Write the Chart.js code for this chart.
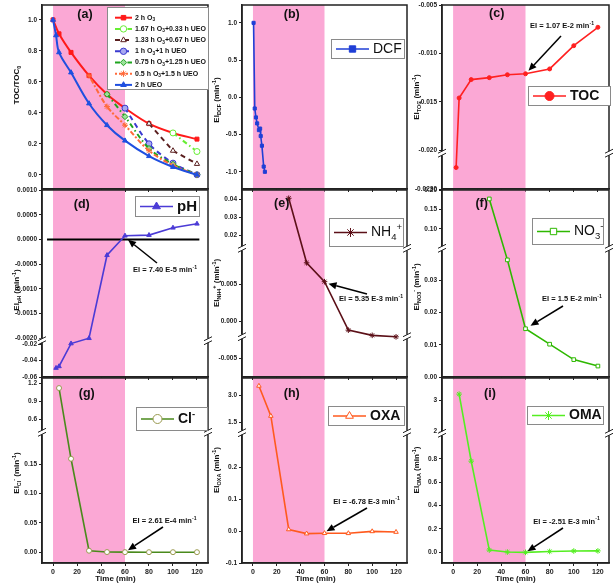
<!DOCTYPE html>
<html>
<head>
<meta charset="utf-8">
<title>EI panels</title>
<script src="https://cdn.jsdelivr.net/npm/chart.js@4.4.1/dist/chart.umd.min.js"></script>
<style>
  html, body { margin: 0; padding: 0; background: #fff; }
  #wrap { position: relative; width: 614px; height: 584px; overflow: hidden; background: #fff; }
  #wrap canvas { position: absolute; left: 0; top: 0; }
</style>
</head>
<body>
<div id="wrap">
  <canvas id="pa" width="614" height="584"></canvas>
  <canvas id="pb" width="614" height="584"></canvas>
  <canvas id="pc" width="614" height="584"></canvas>
  <canvas id="pd" width="614" height="584"></canvas>
  <canvas id="pe" width="614" height="584"></canvas>
  <canvas id="pf" width="614" height="584"></canvas>
  <canvas id="pg" width="614" height="584"></canvas>
  <canvas id="ph" width="614" height="584"></canvas>
  <canvas id="pi" width="614" height="584"></canvas>
</div>
<script>
// ---------- data ----------
const xTicks = [0, 20, 40, 60, 80, 100, 120];
const ueoStage = [0, 60];   // pink band (min)

// (a) TOC/TOC0
const timeO3 = [0, 5, 15, 30, 45, 60, 80, 100, 120];
const tocO3 = [1.00, 0.91, 0.79, 0.64, 0.52, 0.43, 0.33, 0.27, 0.23];
const time167 = [100, 120];
const toc167 = [0.27, 0.15];
const time133 = [80, 100, 120];
const toc133 = [0.33, 0.155, 0.07];
const time100 = [60, 80, 100, 120];
const toc100 = [0.43, 0.20, 0.075, 0.0];
const time075 = [45, 60, 80, 100, 120];
const toc075 = [0.52, 0.375, 0.17, 0.068, 0.0];
const time050 = [30, 45, 60, 80, 100, 120];
const toc050 = [0.64, 0.44, 0.32, 0.155, 0.06, 0.0];
const timeUEO = [0, 2.5, 5, 15, 30, 45, 60, 80, 100, 120];
const tocUEO = [1.00, 0.90, 0.79, 0.66, 0.46, 0.32, 0.22, 0.12, 0.05, 0.0];
const ticksA = [0, 0.2, 0.4, 0.6, 0.8, 1.0];
const labelsA = ['0.0', '0.2', '0.4', '0.6', '0.8', '1.0'];

// (b) DCF
const timeDCF = [0.5, 1.5, 2.5, 3.5, 5, 6, 6.5, 7.5, 9, 10];
const eiDCF = [1.0, -0.15, -0.27, -0.35, -0.44, -0.42, -0.52, -0.65, -0.93, -1.0];
const ticksB = [-1.0, -0.5, 0, 0.5, 1.0];
const labelsB = ['-1.0', '-0.5', '0.0', '0.5', '1.0'];

// (c) TOC
const timeTOC = [2.5, 5, 15, 30, 45, 60, 80, 100, 120];
const eiTOC = [-0.0218, -0.0146, -0.0127, -0.0125, -0.0122, -0.0121, -0.0116, -0.0092, -0.0073];
const ticksC = [-0.023, -0.020, -0.015, -0.010, -0.005];
const labelsC = ['-0.0230', '-0.020', '-0.015', '-0.010', '-0.005'];

// (d) pH
const timePH = [2.5, 5, 15, 30, 45, 60, 80, 100, 120];
const eiPH = [-0.049, -0.047, -0.019, -0.0020, -0.00032, 0.000074, 0.000087, 0.000235, 0.000316];
const zeroLineX = [-5, 122];
const zeroLineY = [0, 0];
const ticksD = [-0.06, -0.04, -0.02, -0.0020, -0.0015, -0.0010, -0.0005, 0, 0.0005, 0.0010];
const labelsD = ['-0.06', '-0.04', '-0.02', '-0.0020', '-0.0015', '-0.0010', '-0.0005', '0.0000', '0.0005', '0.0010'];

// (e) NH4+, (f) NO3-
const timeN = [30, 45, 60, 80, 100, 120];
const eiNH4 = [0.0406, 0.0079, 0.00535, -0.0012, -0.0019, -0.0021];
const eiNO3 = [0.177, 0.0364, 0.015, 0.0102, 0.0054, 0.0034];
const ticksE = [-0.005, 0, 0.005, 0.02, 0.03, 0.04];
const labelsE = ['-0.005', '0.000', '0.005', '0.02', '0.03', '0.04'];
const ticksF = [0, 0.01, 0.02, 0.03, 0.10, 0.15, 0.20];
const labelsF = ['0.00', '0.01', '0.02', '0.03', '0.10', '0.15', '0.20'];

// (g) Cl-, (h) OXA, (i) OMA
const timeIon = [5, 15, 30, 45, 60, 80, 100, 120];
const eiCl = [1.12, 0.159, 0.0027, 0.0004, 0.00026, 0.0002, 0.0002, 0.0002];
const eiOXA = [3.52, 1.85, 0.005, -0.008, -0.0068, -0.007, -0.001, -0.003];
const eiOMA = [3.19, 0.78, 0.017, 0.0, -0.0025, 0.005, 0.009, 0.01];
const ticksG = [0, 0.05, 0.10, 0.15, 0.6, 0.9, 1.2];
const labelsG = ['0.00', '0.05', '0.10', '0.15', '0.6', '0.9', '1.2'];
const ticksH = [-0.1, 0, 0.1, 0.2, 1.5, 3.0];
const labelsH = ['-0.1', '0.0', '0.1', '0.2', '1.5', '3.0'];
const ticksI = [0, 0.2, 0.4, 0.6, 0.8, 2, 3];
const labelsI = ['0.0', '0.2', '0.4', '0.6', '0.8', '2', '3'];

// ---------- layout ----------
const FONT = 'Arial, "Liberation Sans", sans-serif';
const COLS = [[42, 208], [242, 407], [442, 610]];
const ROWS = [[4, 189], [190, 377], [378, 563]];
const X_RANGE = [-9.2, 129.2];
const PANELS = {};

function pts(xs, ys) { return xs.map((x, i) => ({ x: x, y: ys[i] })); }
function seg(min, max, from, to) { return { min: min, max: max, from: from, to: to }; }
const T = t => ({ t: t });
const sub = t => ({ t: t, sub: true });
const sup = t => ({ t: t, sup: true });
const eiTitle = subs => [T('EI')].concat(subs, [T(' (min'), sup('-1'), T(')')]);

// linear scale with axis breaks (piecewise segments)
class BrokenScale extends Chart.LinearScale {
  _segs() {
    const p = PANELS[this.chart.canvas.id];
    return this.axis === 'x' ? p.xSegs : p.ySegs;
  }
  determineDataLimits() {
    const s = this._segs();
    this.min = s[0].min;
    this.max = s[s.length - 1].max;
  }
  buildTicks() {
    const p = PANELS[this.chart.canvas.id];
    const v = this.axis === 'x' ? xTicks : p.yTicks;
    return v.map(value => ({ value: value }));
  }
  getPixelForValue(v) {
    if (v === null || v === undefined || isNaN(v)) return NaN;
    const s = this._segs();
    let g = s[s.length - 1];
    for (const t of s) { if (v <= t.max) { g = t; break; } }
    return this.getPixelForDecimal(g.from + (v - g.min) / (g.max - g.min) * (g.to - g.from));
  }
  getValueForPixel(px) {
    const d = this.getDecimalForPixel(px);
    const s = this._segs();
    let g = s[0];
    for (const t of s) if (d >= t.from) g = t;
    return g.min + (d - g.from) / (g.to - g.from) * (g.max - g.min);
  }
}
BrokenScale.id = 'broken';
BrokenScale.defaults = {};
Chart.register(BrokenScale);

function rich(ctx, parts, x, y, size, weight, align) {
  const items = parts.map(p => {
    const s = (p.sub || p.sup) ? size * 0.68 : size;
    ctx.font = weight + ' ' + s + 'px ' + FONT;
    return { p: p, s: s, w: ctx.measureText(p.t).width };
  });
  const total = items.reduce((a, b) => a + b.w, 0);
  let cx = align === 'center' ? x - total / 2 : x;
  ctx.textAlign = 'left';
  ctx.textBaseline = 'middle';
  items.forEach(it => {
    ctx.font = weight + ' ' + it.s + 'px ' + FONT;
    const dy = it.p.sub ? size * 0.32 : it.p.sup ? -size * 0.36 : 0;
    ctx.fillText(it.p.t, cx, y + dy);
    cx += it.w;
  });
}

function drawLegend(chart, L) {
  const ctx = chart.ctx;
  const [x1, y1, x2, y2] = L.box;
  ctx.fillStyle = '#fff';
  ctx.fillRect(x1, y1, x2 - x1, y2 - y1);
  ctx.strokeStyle = '#8a8a8a';
  ctx.lineWidth = 1;
  ctx.strokeRect(x1 + 0.5, y1 + 0.5, x2 - x1 - 1, y2 - y1 - 1);
  L.rows.forEach((r, i) => {
    const ds = chart.data.datasets[r.ds];
    const y = L.rows.length === 1 ? (y1 + y2) / 2 : L.y0 + i * L.step;
    const a = x1 + L.l0, b = x1 + L.l1;
    ctx.save();
    ctx.strokeStyle = ds.borderColor;
    ctx.lineWidth = ds.borderWidth;
    ctx.setLineDash(ds.borderDash || []);
    ctx.beginPath(); ctx.moveTo(a, y); ctx.lineTo(b, y); ctx.stroke();
    ctx.setLineDash([]);
    ctx.fillStyle = ds.pointBackgroundColor;
    ctx.strokeStyle = ds.pointBorderColor || ds.borderColor;
    ctx.lineWidth = ds.pointBorderWidth || 1;
    Chart.helpers.drawPoint(ctx, { pointStyle: ds.pointStyle, radius: L.mr, rotation: 0, borderWidth: ds.pointBorderWidth || 1 }, (a + b) / 2, y);
    ctx.restore();
    ctx.fillStyle = '#111';
    rich(ctx, r.parts, x1 + L.tx, y, L.size, L.weight, 'left');
  });
}

function drawArrow(ctx, tail, tip) {
  const ang = Math.atan2(tip[1] - tail[1], tip[0] - tail[0]);
  const hl = 8, hw = 3.5;
  const bx = tip[0] - hl * Math.cos(ang), by = tip[1] - hl * Math.sin(ang);
  ctx.strokeStyle = '#000'; ctx.fillStyle = '#000'; ctx.lineWidth = 1.5;
  ctx.beginPath(); ctx.moveTo(tail[0], tail[1]); ctx.lineTo(bx, by); ctx.stroke();
  ctx.beginPath();
  ctx.moveTo(tip[0], tip[1]);
  ctx.lineTo(bx + hw * Math.sin(ang), by - hw * Math.cos(ang));
  ctx.lineTo(bx - hw * Math.sin(ang), by + hw * Math.cos(ang));
  ctx.closePath(); ctx.fill();
}

Chart.register({
  id: 'decor',
  beforeDraw(chart) {
    const a = chart.chartArea, ctx = chart.ctx, xs = chart.scales.x;
    const x0 = xs.getPixelForValue(ueoStage[0]), x1 = xs.getPixelForValue(ueoStage[1]);
    ctx.save();
    ctx.fillStyle = '#fba8d5';
    ctx.fillRect(x0, a.top, x1 - x0, a.bottom - a.top);
    ctx.restore();
  },
  afterDraw(chart) {
    const p = PANELS[chart.canvas.id], a = chart.chartArea, ctx = chart.ctx;
    ctx.save();
    ctx.strokeStyle = '#222'; ctx.lineWidth = 1.5;
    ctx.strokeRect(a.left, a.top, a.right - a.left, a.bottom - a.top);
    // axis breaks
    const brk = p.ySegs.slice(1).map(s => s.from).concat(p.extraBreaks || []);
    brk.forEach(f => {
      const y = a.bottom - f * (a.bottom - a.top);
      [a.left, a.right].forEach(x => {
        ctx.fillStyle = '#fff';
        ctx.fillRect(x - 4, y - 2, 8, 4);
        ctx.strokeStyle = '#222'; ctx.lineWidth = 1;
        ctx.beginPath();
        [-2, 2].forEach(d => { ctx.moveTo(x - 4, y + d + 2); ctx.lineTo(x + 4, y + d - 2); });
        ctx.stroke();
      });
    });
    // panel tag
    ctx.fillStyle = '#111';
    ctx.font = 'bold 12.5px ' + FONT;
    ctx.textAlign = 'center'; ctx.textBaseline = 'middle';
    ctx.fillText(p.tag, p.tagPos[0], p.tagPos[1]);
    // y title
    ctx.save();
    ctx.translate(a.left - 25, p.yTitleY);
    ctx.rotate(-Math.PI / 2);
    rich(ctx, p.yTitle, 0, 0, 8, 'bold', 'center');
    ctx.restore();
    // x title
    if (p.bottomRow) {
      ctx.font = 'bold 8px ' + FONT;
      ctx.textAlign = 'center'; ctx.textBaseline = 'middle';
      ctx.fillText('Time (min)', a.left + 73.5, 579);
    }
    if (p.legend) drawLegend(chart, p.legend);
    if (p.note) {
      const n = p.note;
      const el = chart.getDatasetMeta(0).data[n.i];
      drawArrow(ctx, n.tail, [el.x + n.off[0], el.y + n.off[1]]);
      ctx.fillStyle = '#111';
      rich(ctx, n.parts, n.pos[0], n.pos[1], 7.5, 'bold', 'center');
    }
    ctx.restore();
  }
});

function makePanel(id, col, row, p) {
  const [L, R] = COLS[col], [Tp, B] = ROWS[row];
  const bottomRow = row === 2;
  const xH = bottomRow ? 20 : 4;
  p.bottomRow = bottomRow;
  p.xSegs = [seg(X_RANGE[0], X_RANGE[1], 0, 1)];
  PANELS[id] = p;
  const tickFont = { family: FONT, weight: 'bold' };
  new Chart(document.getElementById(id), {
    type: 'line',
    data: { datasets: p.datasets },
    options: {
      responsive: false, animation: false, events: [], devicePixelRatio: 1,
      layout: { padding: { left: L - 40, right: 614 - R, top: Tp, bottom: 584 - B - xH } },
      plugins: { legend: { display: false }, tooltip: { enabled: false } },
      scales: {
        x: {
          type: 'broken', position: 'bottom',
          grid: { drawOnChartArea: false, tickLength: 3, color: '#222', lineWidth: 1 },
          border: { color: '#222', width: 1.5 },
          ticks: {
            display: bottomRow, autoSkip: false, maxRotation: 0, padding: 2, color: '#222',
            font: Object.assign({ size: 7 }, tickFont),
            callback: (v, i) => String(xTicks[i])
          },
          afterFit: s => { s.height = xH; s.paddingLeft = 0; s.paddingRight = 0; }
        },
        y: {
          type: 'broken', position: 'left',
          grid: { drawOnChartArea: false, tickLength: 3, color: '#222', lineWidth: 1 },
          border: { color: '#222', width: 1.5 },
          ticks: {
            autoSkip: false, padding: 2, color: '#222',
            font: Object.assign({ size: 6.5 }, tickFont),
            callback: (v, i) => p.yLabels[i]
          },
          afterFit: s => { s.width = 40; s.paddingTop = 0; s.paddingBottom = 0; }
        }
      }
    }
  });
}

function line(data, color, style, o) {
  return Object.assign({
    data: data, borderColor: color, borderWidth: 1.6, pointStyle: style,
    pointRadius: 2.5, pointBorderWidth: 1, pointBackgroundColor: '#fff',
    pointBorderColor: color, tension: 0, fill: false
  }, o || {});
}

const dashDot = [5, 3, 1.5, 3];

// (a)
makePanel('pa', 0, 0, {
  tag: '(a)', tagPos: [85, 15], yTitleY: 85,
  yTitle: [T('TOC/TOC'), sub('0')],
  ySegs: [seg(-0.092, 1.096, 0, 1)], yTicks: ticksA, yLabels: labelsA,
  datasets: [
    line(pts(timeO3, tocO3), '#ff1a1a', 'rect', { borderWidth: 2, pointRadius: 2.8, pointBackgroundColor: '#ff1a1a', tension: 0.35, order: 6 }),
    line(pts(time167, toc167), '#66ee33', 'circle', { borderWidth: 2, borderDash: dashDot, pointRadius: 3, order: 5 }),
    line(pts(time133, toc133), '#5a1f1f', 'triangle', { borderWidth: 2, borderDash: [5, 4], pointRadius: 3, order: 4 }),
    line(pts(time100, toc100), '#3a3ad0', 'circle', { borderWidth: 2, borderDash: [5, 4], pointRadius: 3, pointBackgroundColor: '#a8a8f0', order: 3, tension: 0.3 }),
    line(pts(time075, toc075), '#1fa51f', 'rectRot', { borderWidth: 2, borderDash: dashDot, pointRadius: 3, pointBackgroundColor: '#9be09b', order: 2, tension: 0.3 }),
    line(pts(time050, toc050), '#ff6a3a', 'star', { borderWidth: 2, borderDash: [2, 2, 5, 2], pointRadius: 3, order: 1, tension: 0.3 }),
    line(pts(timeUEO, tocUEO), '#1f4fe0', 'triangle', { borderWidth: 2, pointRadius: 2.8, pointBackgroundColor: '#1f4fe0', tension: 0.35, order: 0 })
  ],
  legend: {
    box: [107, 7, 209, 90], y0: 17.7, step: 11.2, l0: 8, l1: 25, tx: 28, mr: 3.2, size: 7, weight: 'bold',
    rows: [
      { ds: 0, parts: [T('2 h O'), sub('3')] },
      { ds: 1, parts: [T('1.67 h O'), sub('3'), T('+0.33 h UEO')] },
      { ds: 2, parts: [T('1.33 h O'), sub('3'), T('+0.67 h UEO')] },
      { ds: 3, parts: [T('1 h O'), sub('3'), T('+1 h UEO')] },
      { ds: 4, parts: [T('0.75 h O'), sub('3'), T('+1.25 h UEO')] },
      { ds: 5, parts: [T('0.5 h O'), sub('3'), T('+1.5 h UEO')] },
      { ds: 6, parts: [T('2 h UEO')] }
    ]
  }
});

const single = (box, parts, size, weight) => ({ box: box, l0: 5, l1: 38, tx: 42, mr: 4.5, size: size, weight: weight, rows: [{ ds: 0, parts: parts }] });

// (b)
makePanel('pb', 1, 0, {
  tag: '(b)', tagPos: [291.7, 15], yTitleY: 100,
  yTitle: eiTitle([sub('DCF')]),
  ySegs: [seg(-1.231, 1.24, 0, 1)], yTicks: ticksB, yLabels: labelsB,
  datasets: [line(pts(timeDCF, eiDCF), '#1f3fd6', 'rect', { pointRadius: 2.2, pointBackgroundColor: '#1f3fd6' })],
  legend: single([331, 39, 405, 59], [T('DCF')], 14, 'normal')
});

// (c)
makePanel('pc', 2, 0, {
  tag: '(c)', tagPos: [496.7, 13.3], yTitleY: 97,
  yTitle: eiTitle([sub('TOC')]),
  ySegs: [seg(-0.0230, -0.0210, 0, 0.1946), seg(-0.0203, -0.0050, 0.1946, 1)],
  yTicks: ticksC, yLabels: labelsC,
  datasets: [line(pts(timeTOC, eiTOC), '#ff2020', 'circle', { pointRadius: 2, pointBackgroundColor: '#ff2020' })],
  legend: single([528, 86, 611, 106], [T('TOC')], 14, 'bold'),
  note: { i: 5, off: [3, -3], tail: [561, 36], pos: [562, 26], parts: [T('EI = 1.07 E-2 min'), sup('-1')] }
});

// (d)
makePanel('pd', 0, 1, {
  tag: '(d)', tagPos: [81.7, 205], yTitleY: 290,
  yTitle: eiTitle([sub('pH')]),
  ySegs: [seg(-0.06, -0.0155, 0, 0.1941), seg(-0.00205, 0.0010, 0.1941, 1)],
  yTicks: ticksD, yLabels: labelsD,
  datasets: [
    line(pts(timePH, eiPH), '#4b3bd6', 'triangle', { pointRadius: 2.6, pointBackgroundColor: '#4b3bd6' }),
    line(pts(zeroLineX, zeroLineY), '#000', 'circle', { borderWidth: 2, pointRadius: 0 })
  ],
  legend: single([135, 196, 200, 217], [T('pH')], 15, 'bold'),
  note: { i: 5, off: [3, 4], tail: [157, 263], pos: [165, 270], parts: [T('EI = 7.40 E-5 min'), sup('-1')] }
});

// (e)
makePanel('pe', 1, 1, {
  tag: '(e)', tagPos: [281.7, 203.3], yTitleY: 283,
  yTitle: eiTitle([sub('NH'), sub('4'), sup('+')]),
  ySegs: [seg(-0.00753, 0.00986, 0, 0.6882), seg(0.01278, 0.0452, 0.6882, 1)],
  extraBreaks: [0.2155],
  yTicks: ticksE, yLabels: labelsE,
  datasets: [line(pts(timeN, eiNH4), '#5c1018', 'star', { pointRadius: 2.8 })],
  legend: single([329, 218, 404, 247], [T('NH'), sub('4'), sup('+')], 14, 'normal'),
  note: { i: 2, off: [4, 2], tail: [367, 294], pos: [371, 299], parts: [T('EI = 5.35 E-3 min'), sup('-1')] }
});

// (f)
makePanel('pf', 2, 1, {
  tag: '(f)', tagPos: [481.7, 203.3], yTitleY: 287,
  yTitle: eiTitle([sub('NO'), sub('3'), sup('-')]),
  ySegs: [seg(0, 0.04, 0, 0.6882), seg(0.05, 0.20, 0.6882, 1)],
  yTicks: ticksF, yLabels: labelsF,
  datasets: [line(pts(timeN, eiNO3), '#2eb800', 'rect', { pointRadius: 2.6 })],
  legend: single([532, 218, 604, 245], [T('NO'), sub('3'), sup('-')], 14, 'normal'),
  note: { i: 2, off: [5, -3], tail: [563, 306], pos: [572, 299], parts: [T('EI = 1.5 E-2 min'), sup('-1')] }
});

// (g)
makePanel('pg', 0, 2, {
  tag: '(g)', tagPos: [86.7, 393.3], yTitleY: 473,
  yTitle: eiTitle([sub('Cl'), sup('-')]),
  ySegs: [seg(-0.0182, 0.204, 0, 0.7065), seg(0.377, 1.289, 0.7065, 1)],
  yTicks: ticksG, yLabels: labelsG,
  datasets: [line(pts(timeIon, eiCl), '#4a8a1c', 'circle', { pointRadius: 2.5, pointBorderColor: '#9a9a50' })],
  legend: single([136, 407, 208, 431], [T('Cl'), sup('-')], 14, 'bold'),
  note: { i: 4, off: [3, -2], tail: [163, 527], pos: [164.5, 521], parts: [T('EI = 2.61 E-4 min'), sup('-1')] }
});

// (h)
makePanel('ph', 1, 2, {
  tag: '(h)', tagPos: [291.7, 393.3], yTitleY: 470,
  yTitle: eiTitle([sub('OXA')]),
  ySegs: [seg(-0.1, 0.308, 0, 0.7043), seg(0.922, 3.96, 0.7043, 1)],
  yTicks: ticksH, yLabels: labelsH,
  datasets: [line(pts(timeIon, eiOXA), '#ff5a1e', 'triangle', { pointRadius: 2.6 })],
  legend: single([328, 406, 405, 426], [T('OXA')], 14, 'bold'),
  note: { i: 4, off: [2, -2], tail: [367, 508], pos: [366.5, 501.5], parts: [T('EI = -6.78 E-3 min'), sup('-1')] }
});

// (i)
makePanel('pi', 2, 2, {
  tag: '(i)', tagPos: [490, 393.3], yTitleY: 470,
  yTitle: eiTitle([sub('OMA')]),
  ySegs: [seg(-0.094, 1.019, 0, 0.7011), seg(1.926, 3.71, 0.7011, 1)],
  yTicks: ticksI, yLabels: labelsI,
  datasets: [line(pts(timeIon, eiOMA), '#55ee22', 'star', { pointRadius: 2.8 })],
  legend: single([527, 406, 604, 425], [T('OMA')], 14, 'bold'),
  note: { i: 4, off: [2, -1], tail: [563, 528], pos: [566.5, 521.5], parts: [T('EI = -2.51 E-3 min'), sup('-1')] }
});
</script>
</body>
</html>
